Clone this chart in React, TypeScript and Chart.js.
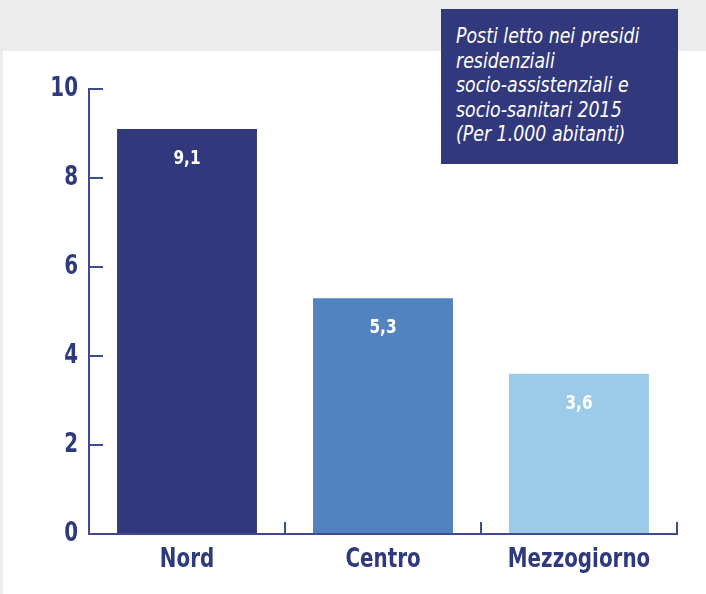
import React, { useEffect, useRef } from "react";
import { Chart, registerables } from "chart.js";

Chart.register(...registerables);

const categories = ["Nord", "Centro", "Mezzogiorno"];
const values = [9.1, 5.3, 3.6];
const barColors = ["#32387c", "#5183c0", "#9ccbe9"];
const valueLabels = ["9,1", "5,3", "3,6"];
const yMin = 0;
const yMax = 10;
const yStep = 2;
const titleLines = [
  "Posti letto nei presidi",
  "residenziali",
  "socio-assistenziali e",
  "socio-sanitari 2015",
  "(Per 1.000 abitanti)",
];

const NAVY = "#2f3a7d";
const AXIS = "#3f4a93";
const FONT = "'DejaVu Sans Condensed', 'DejaVu Sans', sans-serif";
const SQUEEZE = 0.85;

function drawNarrow(ctx: any, text: string, x: number, y: number, align: string, sx: number) {
  ctx.save();
  ctx.translate(x, y);
  ctx.scale(sx, 1);
  ctx.textAlign = align;
  ctx.textBaseline = "middle";
  ctx.fillText(text, 0, 0);
  ctx.restore();
}

const axisPlugin = {
  id: "customAxes",
  afterDatasetsDraw(chart: any) {
    const { ctx, chartArea, scales } = chart;
    const x = scales.x;
    const y = scales.y;
    const left = chartArea.left;
    const right = chartArea.right;
    const y0 = y.getPixelForValue(yMin);
    const yTop = y.getPixelForValue(yMax);
    ctx.save();
    ctx.strokeStyle = AXIS;
    ctx.lineWidth = 2;
    ctx.lineCap = "butt";
    ctx.beginPath();
    ctx.moveTo(left, yTop);
    ctx.lineTo(left, y0);
    ctx.lineTo(right, y0);
    ctx.stroke();
    // y ticks (inside)
    ctx.beginPath();
    y.ticks.forEach((t: any) => {
      const py = Math.round(y.getPixelForValue(t.value));
      ctx.moveTo(left - 1, py);
      ctx.lineTo(left + 14, py);
    });
    ctx.stroke();
    // x ticks at category boundaries
    const half = (x.getPixelForValue(1) - x.getPixelForValue(0)) / 2;
    ctx.beginPath();
    for (let i = 0; i < categories.length; i++) {
      const px = Math.round(x.getPixelForValue(i) + half);
      ctx.moveTo(px, y0 + 1);
      ctx.lineTo(px, y0 - 12);
    }
    ctx.stroke();

    // y tick labels
    ctx.fillStyle = NAVY;
    ctx.font = `bold 26px ${FONT}`;
    y.ticks.forEach((t: any) => {
      const py = y.getPixelForValue(t.value);
      drawNarrow(ctx, String(t.value), left - 11, py, "right", SQUEEZE);
    });
    // x tick labels
    x.ticks.forEach((t: any, i: number) => {
      const px = x.getPixelForTick(i);
      drawNarrow(ctx, String(x.getLabelForValue(t.value)), px, y0 + 26, "center", SQUEEZE);
    });

    // value labels inside bars
    const meta = chart.getDatasetMeta(0);
    ctx.fillStyle = "#ffffff";
    ctx.font = `bold 20px ${FONT}`;
    meta.data.forEach((bar: any, i: number) => {
      drawNarrow(ctx, valueLabels[i], bar.x, bar.y + 30, "center", SQUEEZE);
    });
    ctx.restore();
  },
};

export default function App() {
  const canvasRef = useRef<HTMLCanvasElement | null>(null);

  useEffect(() => {
    document.body.style.margin = "0";
    const canvas = canvasRef.current;
    if (!canvas) return;
    const chart = new Chart(canvas, {
      type: "bar",
      data: {
        labels: categories,
        datasets: [
          {
            data: values,
            backgroundColor: barColors,
            borderWidth: 0,
            barPercentage: 0.714,
            categoryPercentage: 1,
          },
        ],
      },
      options: {
        animation: false,
        responsive: false,
        maintainAspectRatio: false,
        events: [],
        layout: { padding: { top: 89, right: 29, bottom: 0, left: 0 } },
        plugins: {
          legend: { display: false },
          tooltip: { enabled: false },
          title: { display: false },
        },
        scales: {
          x: {
            grid: { display: false, drawTicks: false },
            border: { display: false },
            ticks: { display: false },
            afterFit(scale: any) {
              scale.height = 60;
            },
          },
          y: {
            min: yMin,
            max: yMax,
            grid: { display: false, drawTicks: false },
            border: { display: false },
            ticks: { display: false, stepSize: yStep },
            afterFit(scale: any) {
              scale.width = 89;
            },
          },
        },
      },
      plugins: [axisPlugin],
    });
    return () => chart.destroy();
  }, []);

  return (
    <div
      style={{
        position: "fixed",
        left: 0,
        top: 0,
        width: 706,
        height: 594,
        background: "#ececec",
        overflow: "hidden",
      }}
    >
      <div
        style={{
          position: "absolute",
          left: 3,
          top: 51,
          right: 0,
          bottom: 0,
          background: "#ffffff",
        }}
      />
      <canvas
        ref={canvasRef}
        width={706}
        height={594}
        style={{ position: "absolute", left: 0, top: 0, width: 706, height: 594 }}
      />
      <div
        style={{
          position: "absolute",
          left: 441,
          top: 9,
          width: 237,
          height: 155,
          boxSizing: "border-box",
          background: "#32387c",
          color: "#ffffff",
          fontFamily: FONT,
          fontStyle: "italic",
          fontSize: 21,
          lineHeight: "24.5px",
          paddingLeft: 15,
          paddingTop: 15,
          overflow: "hidden",
        }}
      >
        {titleLines.map((l, i) => (
          <div
            key={i}
            style={{ transform: "scaleX(0.92)", transformOrigin: "left center", whiteSpace: "nowrap" }}
          >
            {l}
          </div>
        ))}
      </div>
    </div>
  );
}
